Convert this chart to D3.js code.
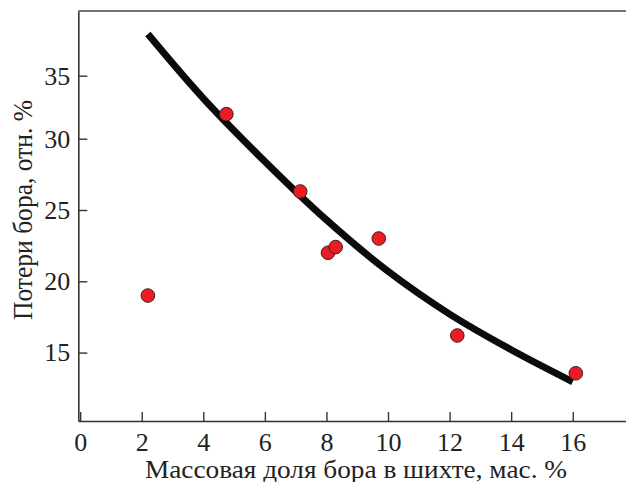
<!DOCTYPE html>
<html>
<head>
<meta charset="utf-8">
<script src="https://cdn.jsdelivr.net/npm/d3@7/dist/d3.min.js"></script>
<style>
  body { margin: 0; background: #fff; }
  svg text { font-family: "Liberation Serif", "Times New Roman", Tinos, "DejaVu Serif", "Noto Serif", FreeSerif, serif; fill: #222; }
</style>
</head>
<body>
<svg id="chart" width="626" height="482"></svg>
<script>
// measured points
var boronContent = [2.2, 4.75, 7.15, 8.05, 8.3, 9.7, 12.25, 16.1];
var boronLoss = [19.0, 31.95, 26.3, 22.0, 22.4, 23.0, 16.2, 13.55];

// fitted curve
var fitX = [2.2, 4, 6, 8, 10, 12, 14, 16];
var fitY = [38.3, 33.2, 28.4, 24.3, 20.7, 17.7, 15.2, 12.95];

var xTicks = [0, 2, 4, 6, 8, 10, 12, 14, 16];
var yTicks = [15, 20, 25, 30, 35];

var xTitle = 'Массовая доля бора в шихте, мас. %';
var yTitle = 'Потери бора, отн. %';

var serif = '"Liberation Serif", "Times New Roman", Tinos, "DejaVu Serif", "Noto Serif", FreeSerif, serif';

var svg = d3.select('#chart');

var x = d3.scaleLinear().domain([-0.06, 17.73]).range([78.3, 626]);
// original figure has slightly uneven y spacing, so piecewise
var y = d3.scaleLinear().domain([10.2, 15, 30, 35, 40.13]).range([421, 352.6, 138.7, 75.7, 11]);

var xAxis = svg.append('g')
    .attr('transform', 'translate(0,421)')
    .call(d3.axisBottom(x).tickValues(xTicks).tickSizeInner(-9).tickSizeOuter(0).tickPadding(12));
var yAxis = svg.append('g')
    .attr('transform', 'translate(78.3,0)')
    .call(d3.axisLeft(y).tickValues(yTicks).tickSizeInner(-9).tickSizeOuter(0).tickPadding(8));

[xAxis, yAxis].forEach(function (ax) {
    ax.attr('font-family', serif);
    ax.select('.domain').attr('stroke', '#333').attr('stroke-width', 1.6);
    ax.selectAll('.tick line').attr('stroke', '#333').attr('stroke-width', 1.4);
    ax.selectAll('.tick text').attr('fill', '#222').style('font-size', '26px');
});

// top frame line
svg.append('line')
    .attr('x1', x.range()[0]).attr('x2', x.range()[1])
    .attr('y1', y.range()[4]).attr('y2', y.range()[4])
    .attr('stroke', '#444').attr('stroke-width', 1.6);

var line = d3.line()
    .x(function (d, i) { return x(fitX[i]); })
    .y(function (d, i) { return y(fitY[i]); })
    .curve(d3.curveCatmullRom);

svg.append('path')
    .datum(fitX)
    .attr('d', line)
    .attr('fill', 'none')
    .attr('stroke', '#0b0b0b')
    .attr('stroke-width', 7);

svg.append('g').selectAll('circle')
    .data(boronContent)
    .join('circle')
    .attr('cx', function (d) { return x(d); })
    .attr('cy', function (d, i) { return y(boronLoss[i]); })
    .attr('r', 6.8)
    .attr('fill', '#ec1c24')
    .attr('stroke', '#3a2020')
    .attr('stroke-width', 1);

svg.append('text')
    .attr('x', 145).attr('y', 478)
    .attr('textLength', 422)
    .attr('lengthAdjust', 'spacingAndGlyphs')
    .style('font-size', '25px')
    .text(xTitle);

svg.append('text')
    .attr('transform', 'translate(32,320) rotate(-90)')
    .attr('textLength', 220)
    .attr('lengthAdjust', 'spacingAndGlyphs')
    .style('font-size', '28px')
    .text(yTitle);
</script>
</body>
</html>
